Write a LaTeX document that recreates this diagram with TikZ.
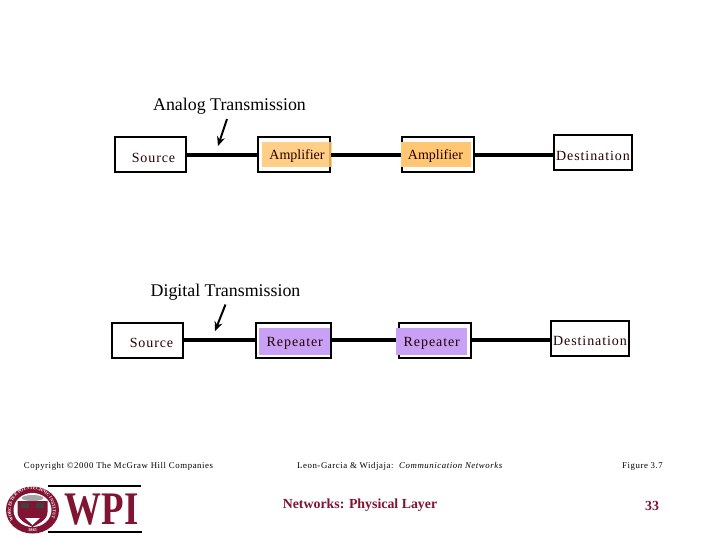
\documentclass[tikz,border=0pt]{standalone}
\usepackage{fontspec}
\setmainfont{Liberation Serif}
\newfontfamily\widefont[LetterSpace=6.5]{Liberation Serif}
\usetikzlibrary{arrows.meta, decorations.text}
\definecolor{crimson}{RGB}{128,20,50}
\definecolor{ampfill}{RGB}{255,199,115}
\definecolor{repfill}{RGB}{200,160,245}
\newcommand\sealfont{\fontsize{3.3}{3.3}\selectfont\bfseries}

\begin{document}
\begin{tikzpicture}[
  x=0.75pt, y=-0.75pt,
  block/.style={draw=black, line width=1.5pt, fill=white, minimum height=26.2pt, inner sep=0},
  title/.style={font=\fontsize{13.4}{15}\selectfont, inner sep=0},
  tag/.style={font=\widefont\fontsize{10.5}{12}\selectfont, inner sep=0, text=black!85!red},
  amp/.style={tag, font=\fontsize{10.5}{12}\selectfont, fill=ampfill, minimum width=52.5pt, minimum height=18.7pt, text depth=0pt, text height=7pt},
  rep/.style={tag, fill=repfill, minimum width=53.5pt, minimum height=20pt, text depth=0pt, text height=7pt},
  wire/.style={line width=3pt},
  pointer/.style={-{Stealth[length=7pt,width=6pt]}, line width=1.5pt},
  foot/.style={font=\widefont\fontsize{6.6}{8}\selectfont, inner sep=0},
  brand/.style={font=\fontsize{10.4}{12}\selectfont\bfseries, text=crimson, inner sep=0},
  seal/.style={font=\sealfont, text=white, inner sep=0},
  ]
  \useasboundingbox (0,0) rectangle (720,540);

  % Analog
  \node[title] (analogtitle) at (229.5,106) {Analog Transmission};
  \node[block, minimum width=53.5pt] (src1) at (150.3,154.5) {};
  \node[block, minimum width=54pt] (ampbox1) at (294.3,154.5) {};
  \node[block, minimum width=54pt] (ampbox2) at (438.3,154.5) {};
  \node[block, minimum width=58.5pt] (dst1) at (593,152.7) {};
  \node[tag] (srclabel1) at (153.5,158) {Source};
  \node[amp, fill opacity=0.85, text opacity=1] (amp1) at (297,154.5) {Amplifier};
  \node[amp] (amp2) at (435.5,154.5) {Amplifier};
  \node[tag] (dstlabel1) at (593,156) {Destination};
  \draw[wire] (src1.east) -- (ampbox1.west);
  \draw[wire] (ampbox1.east) -- (ampbox2.west);
  \draw[wire] (ampbox2.east) -- (ampbox2.east -| dst1.west);
  \coordinate (ptr1a) at (227,119);
  \coordinate (ptr1b) at (218,146);
  \draw[pointer] (ptr1a) -- (ptr1b);

  % Digital
  \node[title] (digitaltitle) at (225.5,292) {Digital Transmission};
  \node[block, minimum width=53.5pt] (src2) at (147.3,340.2) {};
  \node[block, minimum width=56pt] (repbox1) at (293.3,340.2) {};
  \node[block, minimum width=53.8pt] (repbox2) at (435.2,340.2) {};
  \node[block, minimum width=58.5pt] (dst2) at (590,338.2) {};
  \node[tag] (srclabel2) at (151.5,343) {Source};
  \node[tag] (dstlabel2) at (590,341) {Destination};
  \draw[wire] (src2.east) -- (repbox1.west);
  \draw[wire] (repbox1.east) -- (repbox2.west);
  \draw[wire] (repbox2.east) -- (repbox2.east -| dst2.west);
  \node[rep] (rep1) at (294.8,341.6) {Repeater};
  \node[rep] (rep2) at (431.8,341.6) {Repeater};
  \coordinate (ptr2a) at (225.5,304.5);
  \coordinate (ptr2b) at (215,331);
  \draw[pointer] (ptr2a) -- (ptr2b);

  % Footer
  \node[foot] (copyright) at (118.5,466.5) {Copyright ©2000 The McGraw Hill Companies};
  \node[foot] (authors) at (400,466.5) {Leon-Garcia \& Widjaja:\ \ \textit{Communication Networks}};
  \node[foot] (figno) at (642.5,466.5) {Figure 3.7};
  \node[brand] (course) at (360,505.5) {Networks: Physical Layer};
  \node[brand] (pageno) at (652,505.5) {33};

  % Logo
  \node[font=\fontsize{35}{35}\selectfont\bfseries, text=crimson, inner sep=0, xscale=0.79] (wpi) at (101.5,510) {WPI};
  \coordinate (ruleTa) at (48,486);
  \coordinate (ruleTb) at (141,486);
  \coordinate (ruleBa) at (48,532);
  \coordinate (ruleBb) at (142,532);
  \draw[line width=0.9pt] (ruleTa) -- (ruleTb);
  \draw[line width=0.9pt] (ruleBa) -- (ruleBb);
  \fill[white] (32.5,510) circle[x radius=28, y radius=25];
  \fill[crimson] (32.5,510) circle[x radius=26.5, y radius=23.5];
  \fill[white] (32.5,510) circle[x radius=19, y radius=17];
  \path[postaction={decorate, decoration={text along path, text align=center,
      text={|\sealfont\color{white}|WORCESTER POLYTECHNIC INSTITUTE}}}] (12.5,518.5) arc[start angle=157, end angle=383, radius=21];
  \fill[black!35] (32.5,498) ellipse[x radius=11, y radius=3];
  \fill[crimson] (17.5,501) -- (47.5,501) -- (47.5,512) .. controls (47.5,520) and (38,524) .. (32.5,527) .. controls (27,524) and (17.5,520) .. (17.5,512) -- cycle;
  \fill[black!75] (21,503) rectangle (29,508) (36,503) rectangle (44,508);
  \fill[white] (32.5,525) -- (25,518) -- (40,518) -- cycle;
  \node[seal] (year) at (32.5,530) {1865};
\end{tikzpicture}
\end{document}
